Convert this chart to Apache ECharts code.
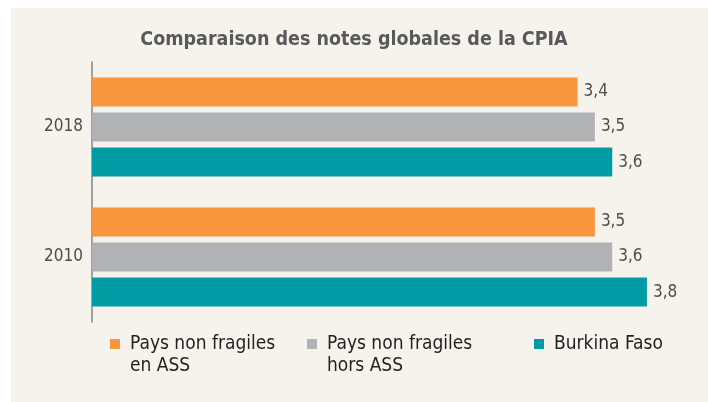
<!DOCTYPE html>
<html>
<head>
    <meta charset="utf-8">
    <title>Comparaison des notes globales de la CPIA</title>
    <script src="https://cdn.jsdelivr.net/npm/echarts@6/dist/echarts.min.js"></script>
    <style>
        body { margin: 0; background: #ffffff; }
    </style>
</head>
<body>
    <div id="main" style="width:708px; height:402px"></div>
    <script type="text/javascript">
        var years = ['2018', '2010'];
        var seriesNames = ['Pays non fragiles\nen ASS', 'Pays non fragiles\nhors ASS', 'Burkina Faso'];
        var nonFragilesASS = [3.4, 3.5];
        var nonFragilesHorsASS = [3.5, 3.6];
        var burkinaFaso = [3.6, 3.8];
        var colors = ['#f7963d', '#b1b2b4', '#009ca6'];

        var font = '"DejaVu Sans Condensed", "Liberation Sans", sans-serif';
        var myChart = echarts.init(document.getElementById('main'));

        function makeSeries(name, values, color) {
            return {
                name: name,
                type: 'bar',
                data: values,
                barWidth: 29,
                barGap: '21%',
                itemStyle: { color: color },
                label: {
                    show: true,
                    position: 'right',
                    distance: 6,
                    color: '#4d4d4f',
                    fontSize: 17,
                    fontFamily: font,
                    formatter: function (p) {
                        return p.value.toFixed(1).replace('.', ',');
                    }
                }
            };
        }

        // two-line names get an empty first line so the icon sits on the first text line
        function makeLegend(name, left, top, twoLines) {
            return {
                data: [name],
                left: left,
                top: top,
                padding: 0,
                icon: 'rect',
                itemWidth: 10,
                itemHeight: 10,
                selectedMode: false,
                formatter: function (n) {
                    return twoLines ? '\n' + n : n;
                },
                textStyle: {
                    color: '#231f20',
                    fontSize: 19,
                    lineHeight: 22,
                    fontFamily: font,
                    padding: [0, 0, 0, 5]
                }
            };
        }

option = {
    backgroundColor: '#ffffff',
    graphic: [
        {
            type: 'rect',
            left: 11,
            top: 8,
            shape: { width: 697, height: 394 },
            style: { fill: '#f6f3ed' },
            z: -10
        }
    ],
    title: {
        text: 'Comparaison des notes globales de la CPIA',
        left: 'center',
        top: 25,
        textStyle: {
            color: '#58595b',
            fontSize: 19.5,
            fontWeight: 'bold',
            fontFamily: font
        }
    },
    legend: [
        makeLegend(seriesNames[0], 110, 311, true),
        makeLegend(seriesNames[1], 307, 311, true),
        makeLegend(seriesNames[2], 534, 333, false)
    ],
    grid: {
        left: 92,
        right: 26.4,
        top: 62,
        height: 260
    },
    xAxis: {
        type: 'value',
        min: 0.6,
        max: 4.0,
        show: false
    },
    yAxis: {
        type: 'category',
        data: years,
        inverse: true,
        axisTick: { show: false },
        axisLine: {
            lineStyle: { color: '#858585', width: 1.5 }
        },
        axisLabel: {
            color: '#4d4d4f',
            fontSize: 17,
            fontFamily: font,
            margin: 9
        }
    },
    series: [
        makeSeries(seriesNames[0], nonFragilesASS, colors[0]),
        makeSeries(seriesNames[1], nonFragilesHorsASS, colors[1]),
        makeSeries(seriesNames[2], burkinaFaso, colors[2])
    ]
};

        myChart.setOption(option);
    </script>
</body>
</html>
